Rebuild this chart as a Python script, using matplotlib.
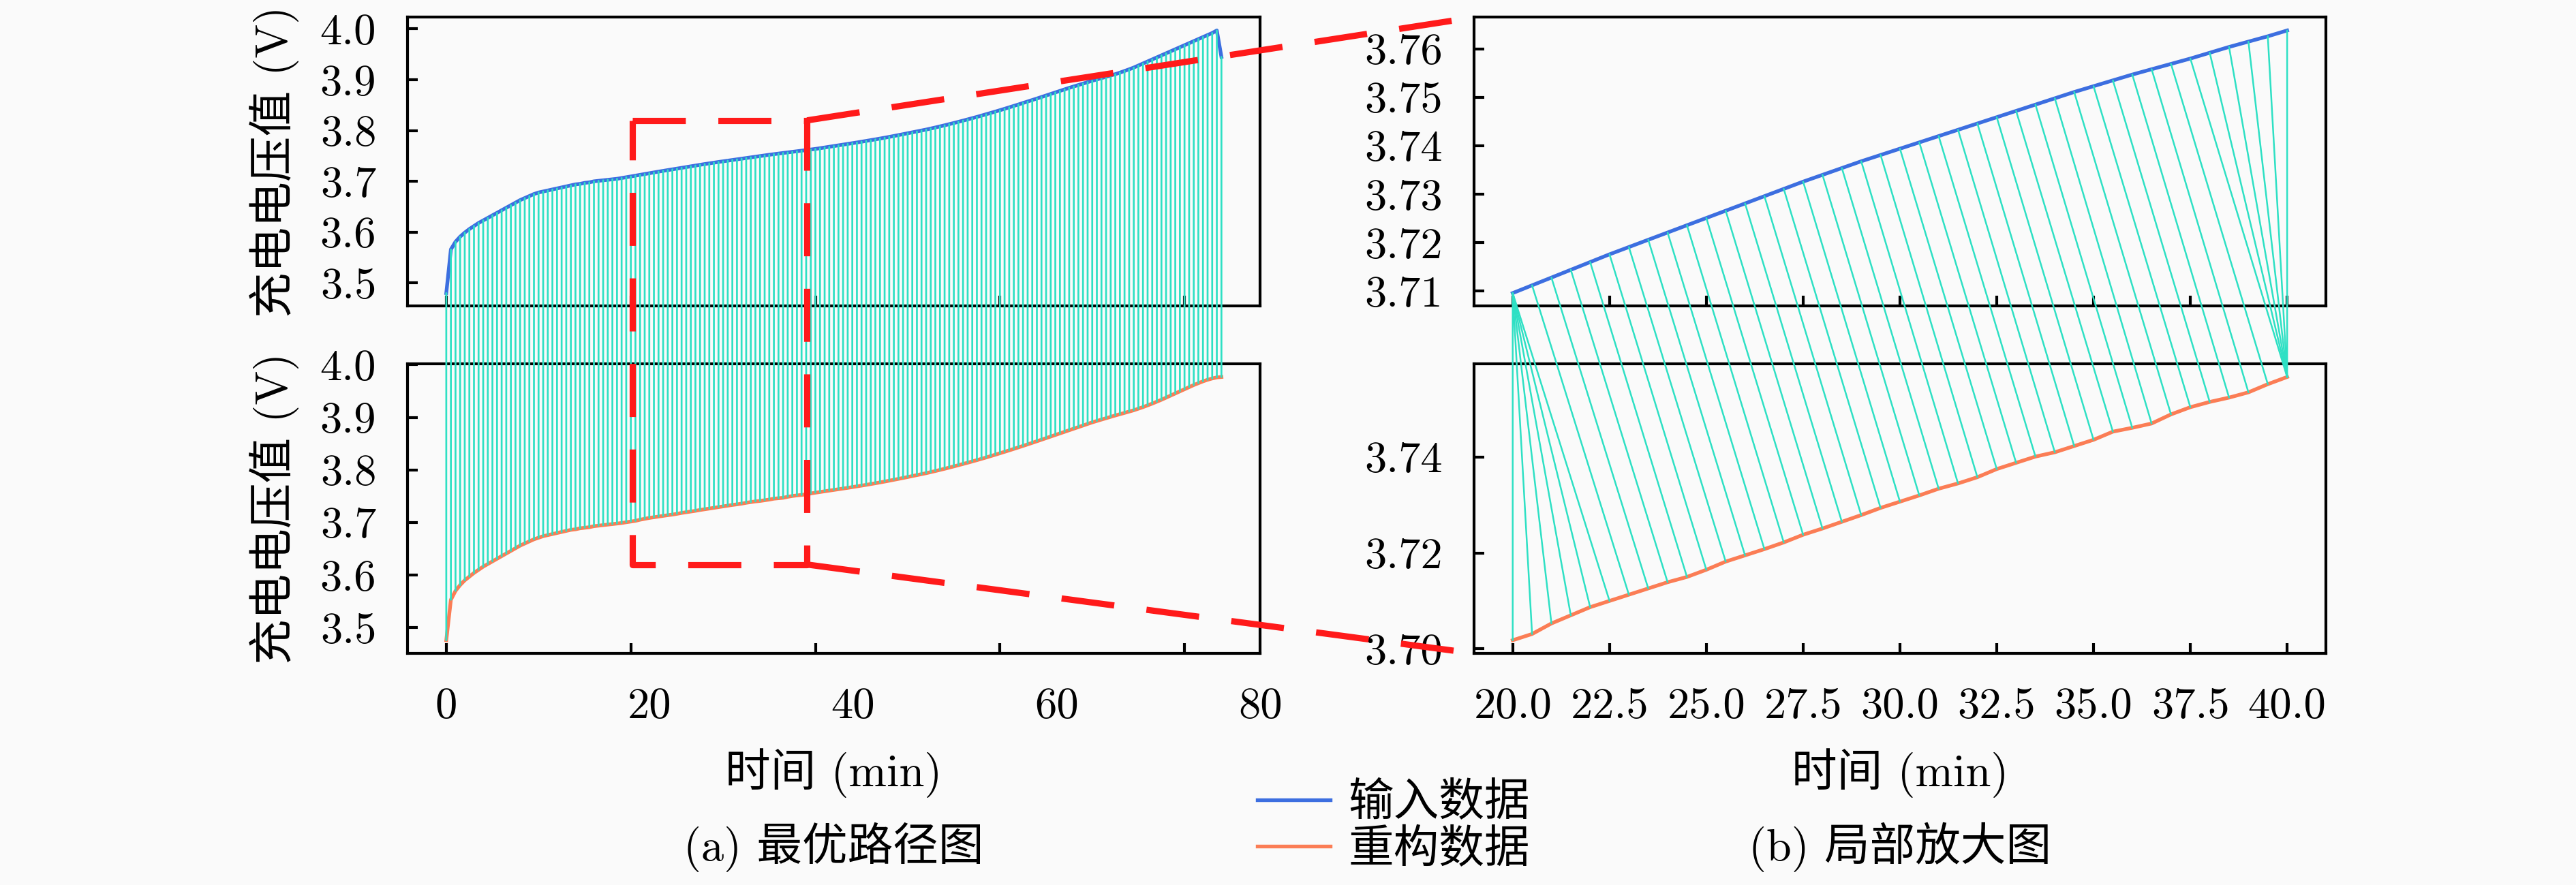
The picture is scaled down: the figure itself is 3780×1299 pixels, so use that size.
import numpy as np
import matplotlib
matplotlib.use("Agg")
import matplotlib.pyplot as plt
from matplotlib.patches import ConnectionPatch
from matplotlib.lines import Line2D
from matplotlib.ticker import FormatStrFormatter

plt.rcParams['font.family'] = ['cmr10', 'Noto Sans CJK SC']
plt.rcParams['mathtext.fontset'] = 'cm'
plt.rcParams['axes.formatter.use_mathtext'] = True

# sampling interval of both series (min)
t_step = 0.5

# input (measured) charging voltage
v_input = [3.480, 3.566, 3.581, 3.591, 3.599, 3.606, 3.612, 3.618, 3.623, 3.628,
           3.633, 3.638, 3.643, 3.648, 3.653, 3.658, 3.663, 3.667, 3.671, 3.675,
           3.678, 3.680, 3.682, 3.684, 3.686, 3.688, 3.690, 3.692, 3.694, 3.695,
           3.697, 3.698, 3.700, 3.701, 3.702, 3.703, 3.704, 3.705, 3.7065, 3.708,
           3.7096, 3.7112, 3.7128, 3.7144, 3.7160, 3.7176, 3.7191, 3.7206, 3.7221, 3.7236,
           3.7251, 3.7266, 3.7281, 3.7296, 3.7311, 3.7326, 3.7340, 3.7354, 3.7368, 3.7381,
           3.7394, 3.7407, 3.7420, 3.7433, 3.7446, 3.7459, 3.7472, 3.7485, 3.7498, 3.7511,
           3.7523, 3.7535, 3.7547, 3.7558, 3.7569, 3.7580, 3.7592, 3.7604, 3.7615, 3.7626,
           3.7638,
           3.7652, 3.7666, 3.7680, 3.7694, 3.7708, 3.7722, 3.7736, 3.7750, 3.7765,
           3.7780, 3.7795, 3.7810, 3.7826, 3.7842, 3.7858, 3.7875, 3.7892, 3.7910, 3.7928,
           3.7946, 3.7964, 3.7982, 3.8000, 3.8019, 3.8039, 3.8060, 3.8081, 3.8103, 3.8125,
           3.8148, 3.8171, 3.8195, 3.8219, 3.8243, 3.8268, 3.8294, 3.8320, 3.8346, 3.8373,
           3.8400, 3.8428, 3.8456, 3.8484, 3.8513, 3.8542, 3.8571, 3.8600, 3.8630, 3.8660,
           3.8690, 3.8720, 3.8750, 3.8780, 3.8810, 3.8840, 3.8868, 3.8896, 3.8924, 3.8952,
           3.8980, 3.9006, 3.9032, 3.9058, 3.9084, 3.9110, 3.9140, 3.9172, 3.9205, 3.9240,
           3.9280, 3.9320, 3.9360, 3.9400, 3.9440, 3.9480, 3.9520, 3.9560, 3.9600, 3.9640,
           3.9680, 3.9720, 3.9760, 3.9800, 3.9840, 3.9880, 3.9920, 3.9970, 3.9450]

# reconstructed charging voltage
v_recon = [3.476, 3.553, 3.570, 3.581, 3.590, 3.597, 3.604, 3.610, 3.616, 3.621,
           3.626, 3.631, 3.636, 3.641, 3.646, 3.651, 3.656, 3.660, 3.664, 3.668,
           3.671, 3.674, 3.676, 3.678, 3.680, 3.682, 3.684, 3.686, 3.687, 3.689,
           3.690, 3.691, 3.693, 3.694, 3.695, 3.696, 3.697, 3.698, 3.699, 3.7005,
           3.7018, 3.7031, 3.7053, 3.7070, 3.7087, 3.7100, 3.7113, 3.7126, 3.7139, 3.7150,
           3.7165, 3.7182, 3.7195, 3.7208, 3.7222, 3.7238, 3.7251, 3.7265, 3.7279, 3.7294,
           3.7307, 3.7320, 3.7334, 3.7345, 3.7358, 3.7375, 3.7388, 3.7401, 3.7410, 3.7423,
           3.7436, 3.7453, 3.7461, 3.7470, 3.7489, 3.7504, 3.7515, 3.7524, 3.7535, 3.7552,
           3.7567,
           3.7580, 3.7593, 3.7606, 3.7619, 3.7632, 3.7645, 3.7659, 3.7673, 3.7687,
           3.7701, 3.7716, 3.7731, 3.7746, 3.7762, 3.7778, 3.7795, 3.7812, 3.7829, 3.7847,
           3.7865, 3.7883, 3.7901, 3.7919, 3.7938, 3.7958, 3.7979, 3.8000, 3.8022, 3.8044,
           3.8067, 3.8090, 3.8113, 3.8137, 3.8161, 3.8186, 3.8211, 3.8237, 3.8263, 3.8290,
           3.8317, 3.8344, 3.8372, 3.8400, 3.8428, 3.8457, 3.8486, 3.8515, 3.8545, 3.8575,
           3.8605, 3.8635, 3.8665, 3.8695, 3.8725, 3.8755, 3.8785, 3.8815, 3.8845, 3.8875,
           3.8905, 3.8932, 3.8958, 3.8984, 3.9010, 3.9036, 3.9060, 3.9085, 3.9110, 3.9135,
           3.9165, 3.9195, 3.9228, 3.9262, 3.9298, 3.9335, 3.9375, 3.9415, 3.9455, 3.9495,
           3.9535, 3.9575, 3.9615, 3.9650, 3.9685, 3.9715, 3.9740, 3.9760, 3.9768]

# zoomed window (sample indices for 20-40 min)
zoom_first, zoom_last = 40, 80

# optimal warping path inside the zoomed window (input idx, recon idx)
path_top = [0, 0, 0, 0, 0, 0, 1, 2, 3, 4, 5, 6, 7, 8, 9, 10, 11, 12, 13, 14, 15, 16,
            17, 18, 19, 20, 21, 22, 23, 24, 25, 26, 27, 28, 29, 30, 31, 32, 33, 34,
            35, 36, 37, 38, 39, 40]
path_bot = [0, 1, 2, 3, 4, 5, 6, 7, 8, 9, 10, 11, 12, 13, 14, 15, 16, 17, 18, 19, 20,
            21, 22, 23, 24, 25, 26, 27, 28, 29, 30, 31, 32, 33, 34, 35, 36, 37, 38,
            39, 40, 40, 40, 40, 40, 40]

full_xticks = [0, 20, 40, 60, 80]
full_xlabels = ['0', '20', '40', '60', '80']
full_yticks = [3.5, 3.6, 3.7, 3.8, 3.9, 4.0]
zoom_xticks = [20.0, 22.5, 25.0, 27.5, 30.0, 32.5, 35.0, 37.5, 40.0]
zoom_top_yticks = [3.71, 3.72, 3.73, 3.74, 3.75, 3.76]
zoom_bot_yticks = [3.70, 3.72, 3.74]

# red frame around the zoomed region
box_x = (20.2, 39.1)
box_y_top, box_y_bot = 3.82, 3.62

c_in = '#3c6ee0'
c_rec = '#fb7d55'
c_link = '#2ee0c4'
c_red = '#ff1a1a'
bg = '#fafafa'
fs = 15.5

t = np.arange(len(v_input)) * t_step
v_input = np.array(v_input)
v_recon = np.array(v_recon)

fig = plt.figure(figsize=(12.6, 4.33), dpi=300, facecolor=bg)
ax_lt = fig.add_axes([0.1582, 0.6540, 0.3310, 0.3264])
ax_lb = fig.add_axes([0.1582, 0.2617, 0.3310, 0.3272])
ax_rt = fig.add_axes([0.5722, 0.6540, 0.3307, 0.3264])
ax_rb = fig.add_axes([0.5722, 0.2617, 0.3307, 0.3272])

ax_lt.plot(t, v_input, color=c_in, lw=1.3)
ax_lb.plot(t, v_recon, color=c_rec, lw=1.3)

tz = t[zoom_first:zoom_last + 1]
vz_in = v_input[zoom_first:zoom_last + 1]
vz_rec = v_recon[zoom_first:zoom_last + 1]
ax_rt.plot(tz, vz_in, color=c_in, lw=1.3)
ax_rb.plot(tz, vz_rec, color=c_rec, lw=1.3)

for ax in (ax_lt, ax_lb, ax_rt, ax_rb):
    ax.set_facecolor(bg)
    for s in ax.spines.values():
        s.set_linewidth(1.0)
    ax.tick_params(direction='in', length=3.5, width=1.0, labelsize=fs, pad=11,
                   top=False, right=False)
    ax.set_xlim(ax.get_xlim())
    ax.set_ylim(ax.get_ylim())

# left column
for ax in (ax_lt, ax_lb):
    ax.set_xticks(full_xticks, labels=[''] * len(full_xticks))
    ax.set_yticks(full_yticks)
    ax.yaxis.set_major_formatter(FormatStrFormatter('%.1f'))
lo, hi = ax_lb.get_xlim()
ax_lb.xaxis.remove_overlapping_locs = False
ax_lb.set_xticks(np.linspace(0, hi, len(full_xlabels)), labels=full_xlabels, minor=True)
ax_lb.tick_params(axis='x', which='minor', length=0, labelsize=fs, pad=12)

# right column
for ax in (ax_rt, ax_rb):
    ax.set_xticks(zoom_xticks)
    ax.xaxis.set_major_formatter(FormatStrFormatter('%.1f'))
ax_rt.set_xticklabels([])
ax_rb.tick_params(axis='x', pad=12)
ax_rt.set_yticks(zoom_top_yticks)
ax_rt.yaxis.set_major_formatter(FormatStrFormatter('%.2f'))
ax_rb.set_yticks(zoom_bot_yticks)
ax_rb.yaxis.set_major_formatter(FormatStrFormatter('%.2f'))

# alignment links between the two series
for i in range(len(t)):
    con = ConnectionPatch(xyA=(t[i], v_input[i]), coordsA=ax_lt.transData,
                          xyB=(t[i], v_recon[i]), coordsB=ax_lb.transData,
                          color=c_link, lw=0.65)
    fig.add_artist(con)
for i, j in zip(path_top, path_bot):
    con = ConnectionPatch(xyA=(tz[i], vz_in[i]), coordsA=ax_rt.transData,
                          xyB=(tz[j], vz_rec[j]), coordsB=ax_rb.transData,
                          color=c_link, lw=0.6)
    fig.add_artist(con)


def to_fig(ax, x, y, data=True):
    tr = ax.transData if data else ax.transAxes
    return fig.transFigure.inverted().transform(tr.transform((x, y)))


p1 = to_fig(ax_lt, box_x[0], box_y_top)
p2 = to_fig(ax_lt, box_x[1], box_y_top)
p3 = to_fig(ax_lb, box_x[1], box_y_bot)
p4 = to_fig(ax_lb, box_x[0], box_y_bot)
frame = np.array([p1, p2, p3, p4, p1])
dash_kw = dict(color=c_red, lw=2.2, dashes=(8.5, 5.2), transform=fig.transFigure,
               solid_capstyle='butt', dash_capstyle='butt', zorder=5)
fig.add_artist(Line2D(frame[:, 0], frame[:, 1], **dash_kw))
q1 = to_fig(ax_rt, 0, 1, data=False)
q2 = to_fig(ax_rb, 0, 0, data=False)
fig.add_artist(Line2D([p2[0], q1[0]], [p2[1], q1[1]], **dash_kw))
fig.add_artist(Line2D([p3[0], q2[0]], [p3[1], q2[1]], **dash_kw))

ylab = '充电电压值 (V)'
fig.text(0.1066, 0.8176, ylab, rotation=90, ha='center', va='center', fontsize=fs + 0.5)
fig.text(0.1066, 0.4253, ylab, rotation=90, ha='center', va='center', fontsize=fs + 0.5)
fig.text(0.3237, 0.1263, '时间 (min)', ha='center', va='center', fontsize=fs + 0.5)
fig.text(0.7376, 0.1263, '时间 (min)', ha='center', va='center', fontsize=fs + 0.5)
fig.text(0.3237, 0.043, '(a) 最优路径图', ha='center', va='center', fontsize=fs + 0.5)
fig.text(0.7376, 0.043, '(b) 局部放大图', ha='center', va='center', fontsize=fs + 0.5)

handles = [Line2D([], [], color=c_in, lw=1.3), Line2D([], [], color=c_rec, lw=1.3)]
fig.legend(handles, ['输入数据', '重构数据'], loc='center', bbox_to_anchor=(0.541, 0.066),
           frameon=False, fontsize=fs + 0.5, handlelength=1.6, handletextpad=0.4,
           labelspacing=0.1, borderpad=0)

fig.savefig('out.png', dpi=300, facecolor=bg)
